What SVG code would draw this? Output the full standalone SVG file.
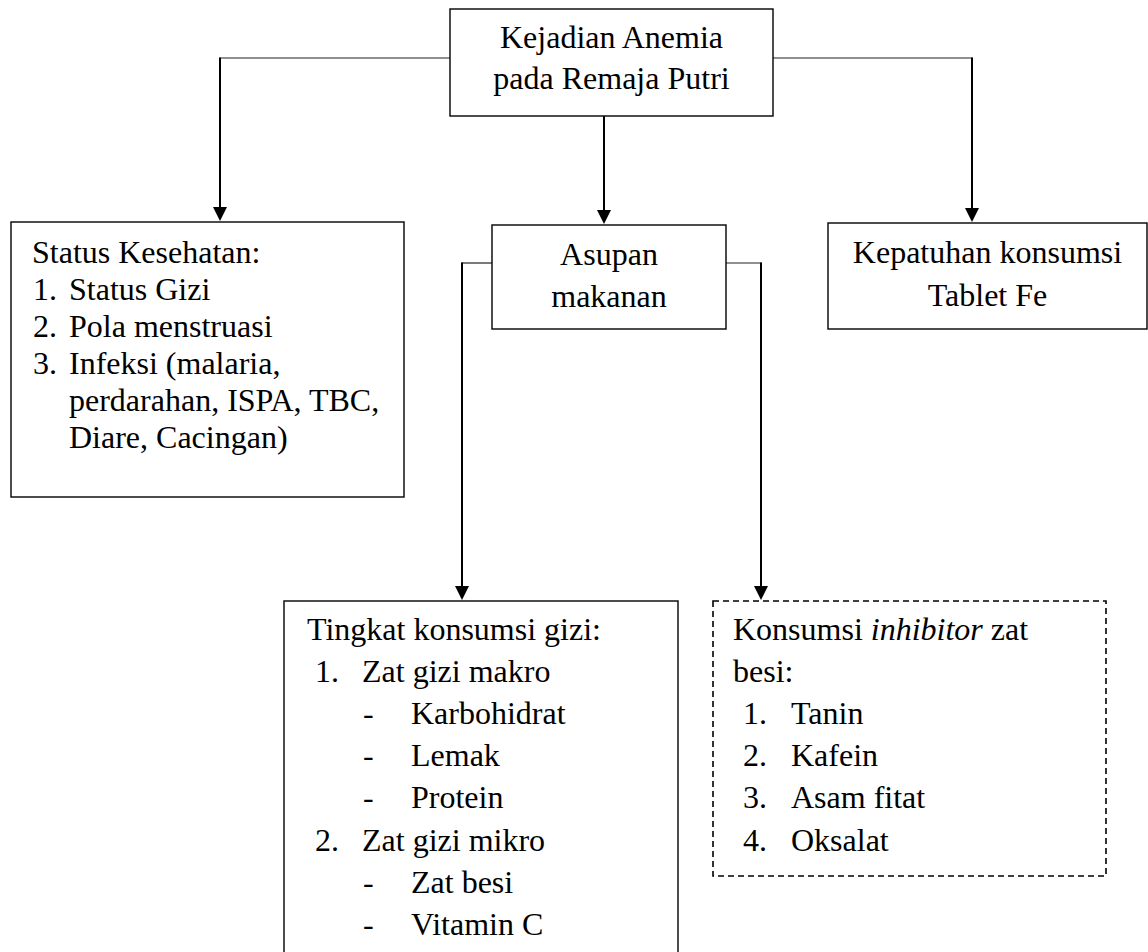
<svg xmlns="http://www.w3.org/2000/svg" width="1148" height="952" viewBox="0 0 1148 952">
<style>
  .box{fill:#fff;stroke:#000;stroke-width:1.4}
  .dash{fill:#fff;stroke:#000;stroke-width:1.6;stroke-dasharray:6 4}
  .h{stroke:#222;stroke-width:1.2;fill:none}
  .v{stroke:#000;stroke-width:2;fill:none;marker-end:url(#arr)}
  text{font-family:"Liberation Serif","Times New Roman",serif;font-size:32px;fill:#000}
  .c{text-anchor:middle}
</style>
<defs>
  <marker id="arr" markerUnits="userSpaceOnUse" viewBox="0 0 14 14" refX="2" refY="7" markerWidth="14" markerHeight="14" orient="auto">
    <path d="M0,0 L14,7 L0,14 z" fill="#000"/>
  </marker>
</defs>
<rect width="1148" height="952" fill="#fff"/>
<g id="connectors">
  <line class="h" x1="450" y1="58" x2="219.5" y2="58"/>
  <line class="v" x1="220" y1="57.5" x2="220" y2="209"/>
  <line class="h" x1="773" y1="58" x2="972.5" y2="58"/>
  <line class="v" x1="972" y1="57.5" x2="972" y2="210"/>
  <line class="v" x1="604" y1="116" x2="604" y2="212"/>
  <line class="h" x1="492" y1="263" x2="461.5" y2="263"/>
  <line class="v" x1="462" y1="262.5" x2="462" y2="588"/>
  <line class="h" x1="726" y1="263" x2="761.5" y2="263"/>
  <line class="v" x1="761" y1="262.5" x2="761" y2="588"/>
</g>
<g id="node-top">
  <rect class="box" x="450" y="9" width="323" height="107"/>
  <text class="c" x="611.5" y="48">Kejadian Anemia</text>
  <text class="c" x="611.5" y="89">pada Remaja Putri</text>
</g>
<g id="node-status">
  <rect class="box" x="11" y="222" width="393" height="275"/>
  <text x="32" y="263">Status Kesehatan:</text>
  <text x="33" y="300">1.</text><text x="69" y="300">Status Gizi</text>
  <text x="33" y="337">2.</text><text x="69" y="337">Pola menstruasi</text>
  <text x="33" y="374">3.</text><text x="69" y="374">Infeksi (malaria,</text>
  <text x="69" y="411">perdarahan, ISPA, TBC,</text>
  <text x="69" y="448">Diare, Cacingan)</text>
</g>
<g id="node-asupan">
  <rect class="box" x="492" y="225" width="234" height="104"/>
  <text class="c" x="609" y="265">Asupan</text>
  <text class="c" x="609" y="307">makanan</text>
</g>
<g id="node-kepatuhan">
  <rect class="box" x="828" y="223" width="319" height="106"/>
  <text class="c" x="987.5" y="263">Kepatuhan konsumsi</text>
  <text class="c" x="987.5" y="306">Tablet Fe</text>
</g>
<g id="node-tingkat">
  <rect class="box" x="284" y="601" width="394" height="400"/>
  <text x="307" y="640">Tingkat konsumsi gizi:</text>
  <text x="315" y="682">1.</text><text x="362" y="682">Zat gizi makro</text>
  <text x="363" y="724">-</text><text x="411" y="724">Karbohidrat</text>
  <text x="363" y="766">-</text><text x="411" y="766">Lemak</text>
  <text x="363" y="808">-</text><text x="411" y="808">Protein</text>
  <text x="315" y="851">2.</text><text x="362" y="851">Zat gizi mikro</text>
  <text x="363" y="893">-</text><text x="411" y="893">Zat besi</text>
  <text x="363" y="935">-</text><text x="411" y="935">Vitamin C</text>
</g>
<g id="node-inhibitor">
  <rect class="dash" x="713" y="601" width="393" height="275"/>
  <text x="733" y="640">Konsumsi <tspan font-style="italic">inhibitor</tspan> zat</text>
  <text x="733" y="682">besi:</text>
  <text x="743" y="724">1.</text><text x="791" y="724">Tanin</text>
  <text x="743" y="766">2.</text><text x="791" y="766">Kafein</text>
  <text x="743" y="808">3.</text><text x="791" y="808">Asam fitat</text>
  <text x="743" y="851">4.</text><text x="791" y="851">Oksalat</text>
</g>
</svg>
